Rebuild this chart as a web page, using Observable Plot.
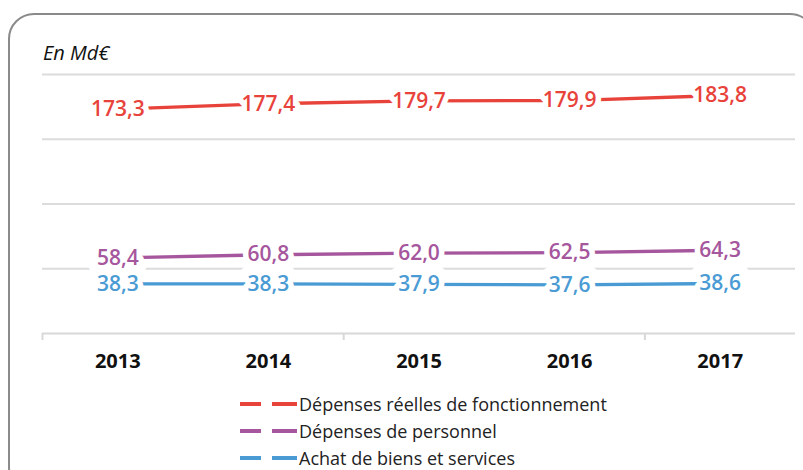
<!DOCTYPE html>
<html>
<head>
<meta charset="utf-8">
<script src="https://cdn.jsdelivr.net/npm/d3@7"></script>
<script src="https://cdn.jsdelivr.net/npm/@observablehq/plot@0.6"></script>
<style>
  html, body { margin: 0; padding: 0; background: #fff; overflow: hidden; width: 803px; height: 470px; }
  #wrap { position: relative; width: 803px; height: 470px; font-family: "Open Sans", sans-serif; }
  #frame { position: absolute; left: 8px; top: 13px; width: 808px; height: 480px; box-sizing: border-box;
           border: 2px solid #8a8a8a; border-radius: 26px; }
  #unit { position: absolute; left: 43px; top: 41px; font-size: 20px; font-style: italic; color: #111; line-height: 24px; }
  #chart { position: absolute; left: 0; top: 0; }
  #legend { position: absolute; left: 240px; top: 390px; font-size: 18px; color: #222; }
  .row { display: flex; align-items: center; height: 27px; }
  .row svg { margin-right: 1px; }
</style>
</head>
<body>
<div id="wrap">
  <div id="frame"></div>
  <div id="chart"></div>
  <div id="unit">En Md€</div>
  <div id="legend"></div>
</div>
<script>
const years = [2013, 2014, 2015, 2016, 2017];
const reelles = [173.3, 177.4, 179.7, 179.9, 183.8];
const personnel = [58.4, 60.8, 62.0, 62.5, 64.3];
const achats = [38.3, 38.3, 37.9, 37.6, 38.6];
const seriesNames = ["Dépenses réelles de fonctionnement", "Dépenses de personnel", "Achat de biens et services"];
const seriesColors = ["#e8433b", "#a5569c", "#4a9bd4"];
const gridValues = [50, 100, 150, 200];
const tickBoundaries = [2012.5, 2014.5, 2016.5];

const seriesValues = [reelles, personnel, achats];
const data = [];
seriesNames.forEach((name, i) => {
  years.forEach((yr, j) => data.push({series: name, year: yr, value: seriesValues[i][j]}));
});
const fmt = v => v.toFixed(1).replace(".", ",");

const chart = Plot.plot({
  width: 803,
  height: 385,
  marginLeft: 42,
  marginRight: 8,
  marginTop: 74,
  marginBottom: 52,
  style: {fontFamily: "Open Sans, sans-serif", background: "transparent", overflow: "visible"},
  x: {domain: [2012.5, 2017.5], axis: null, label: null},
  y: {domain: [0, 200], axis: null, label: null},
  color: {domain: seriesNames, range: seriesColors},
  marks: [
    Plot.ruleY(gridValues, {stroke: "#dcdcdc", strokeWidth: 2}),
    Plot.ruleY([0], {stroke: "#d8d8d8", strokeWidth: 2}),
    Plot.axisX(tickBoundaries, {tickSize: 7, stroke: "#d8d8d8", strokeWidth: 2, tickFormat: () => "", label: null}),
    Plot.axisX(years, {tickSize: 0, tickPadding: 20, tickFormat: d => String(d), fontSize: 20, fontWeight: 700, fill: "#111", label: null}),
    Plot.text(data, {x: "year", y: "value", text: d => fmt(d.value), fontSize: 21, fontWeight: 600,
                     fill: "white", stroke: "white", strokeWidth: 20, strokeLinejoin: "round"}),
    Plot.line(data, {x: "year", y: "value", z: "series", stroke: "series", strokeWidth: 3.3}),
    Plot.text(data, {x: "year", y: "value", text: d => fmt(d.value), fontSize: 21, fontWeight: 600,
                     fill: "series", stroke: "white", strokeWidth: 11, strokeLinejoin: "round", paintOrder: "stroke"})
  ]
});
document.getElementById("chart").appendChild(chart);

const legend = document.getElementById("legend");
seriesNames.forEach((name, i) => {
  const row = document.createElement("div");
  row.className = "row";
  row.innerHTML = `<svg width="58" height="8"><line x1="0" x2="21" y1="4" y2="4" stroke="${seriesColors[i]}" stroke-width="4"/><line x1="32" x2="57" y1="4" y2="4" stroke="${seriesColors[i]}" stroke-width="4"/></svg><span>${name}</span>`;
  legend.appendChild(row);
});
</script>
</body>
</html>
